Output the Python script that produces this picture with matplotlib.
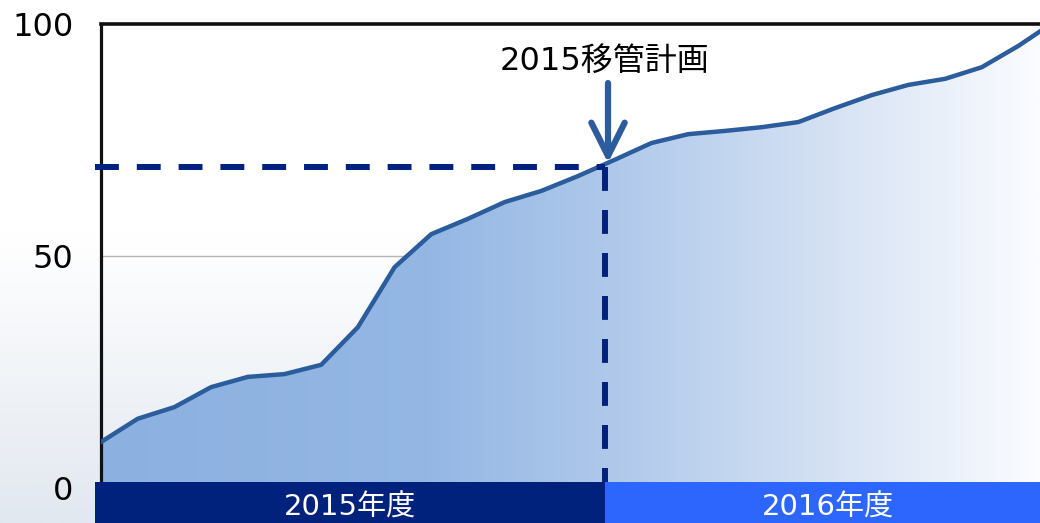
import numpy as np
import matplotlib
matplotlib.use('Agg')
import matplotlib.pyplot as plt
from matplotlib.colors import LinearSegmentedColormap
from matplotlib.patches import Rectangle, Polygon

plt.rcParams['font.family'] = ['DejaVu Sans', 'Noto Sans CJK JP']

# ---- data ----
values = [10.0, 15.0, 17.5, 21.8, 24.0, 24.6, 26.6, 34.7, 47.6, 54.7, 58.0,
          61.6, 64.0, 67.2, 70.7, 74.3, 76.2, 76.9, 77.7, 78.8, 81.8, 84.6,
          86.8, 88.1, 90.6, 95.2, 100.5]
y_ticks = [0, 50, 100]
y_ticklabels = ['0', '50', '100']
plan_value = 69.1
plan_x = 13.73
fy_labels = ['2015年度', '2016年度']
annotation = '2015移管計画'

x = np.arange(len(values))
XMAX = 939 / 36.7
YMIN = -7.42
BAND_TOP = 1.4
BAND_LEFT = -0.163

fig = plt.figure(figsize=(10.4, 5.23), dpi=100)
fig.patch.set_facecolor('white')

# background gradient
bg = fig.add_axes([0, 0, 1, 1], zorder=-10)
bg.axis('off')
t = np.linspace(0, 1, 256)[:, None]
bg_cmap = LinearSegmentedColormap.from_list(
    'bg', [(0, '#ffffff'), (0.45, '#ffffff'), (1.0, '#e2e8f0')])
bg.imshow(t, aspect='auto', cmap=bg_cmap, extent=[0, 1, 0, 1], origin='upper')
bg.set_xlim(0, 1)
bg.set_ylim(0, 1)

ax = fig.add_axes([101 / 1040, 0, 939 / 1040, (523 - 23.5) / 523])
ax.set_facecolor('none')
ax.set_xlim(0, XMAX)
ax.set_ylim(YMIN, 100)

# gridline
ax.axhline(50, color='#b4b4b4', lw=1, zorder=1)

# gradient area fill
poly_xy = np.vstack([np.column_stack([x, values]),
                     [[x[-1], YMIN], [x[0], YMIN]]])
poly = Polygon(poly_xy, closed=True, facecolor='none', edgecolor='none')
ax.add_patch(poly)
fill_cmap = LinearSegmentedColormap.from_list(
    'fill', [(0, '#8cb0e0'), (0.35, '#94b7e4'), (0.55, '#b0c9eb'),
             (0.78, '#d6e2f3'), (1.0, '#fbfcff')])
gx = np.linspace(0, 1, 512)[None, :]
im = ax.imshow(gx, aspect='auto', cmap=fill_cmap, extent=[0, XMAX, YMIN, 100],
               origin='lower', zorder=2, interpolation='bilinear')
im.set_clip_path(poly)

# line
ax.plot(x, values, color='#2b5c9c', lw=3.2, zorder=3, solid_joinstyle='round')

# dashed plan lines
navy = '#00217f'
ax.plot([BAND_LEFT, plan_x], [plan_value, plan_value], color=navy, lw=4.3,
        linestyle=(0, (4, 3)), zorder=4, clip_on=False, dash_capstyle='butt')
ax.plot([plan_x, plan_x], [plan_value, BAND_TOP], color=navy, lw=4.3,
        linestyle=(0, (4, 3.2)), zorder=4, clip_on=False, dash_capstyle='butt')

# fiscal year bands
ax.add_patch(Rectangle((BAND_LEFT, YMIN), plan_x - BAND_LEFT, BAND_TOP - YMIN,
                       facecolor='#00217c', edgecolor='none', zorder=5, clip_on=False))
ax.add_patch(Rectangle((plan_x, YMIN), XMAX - plan_x + 1, BAND_TOP - YMIN,
                       facecolor='#2d66fc', edgecolor='none', zorder=5, clip_on=False))
ax.text((BAND_LEFT + plan_x) / 2, -4.0, fy_labels[0], color='white',
        fontsize=21, ha='center', va='center', zorder=6)
ax.text((plan_x + XMAX) / 2 + 0.15, -4.0, fy_labels[1], color='white',
        fontsize=21, ha='center', va='center', zorder=6)

# arrow + annotation
ax.annotate('', xy=(13.815, 70.0), xytext=(13.815, 87.2),
            arrowprops=dict(arrowstyle='->,head_length=1.2,head_width=0.6',
                            lw=4.5, color='#2c5c9c', shrinkA=0, shrinkB=0,
                            mutation_scale=20, capstyle='round', joinstyle='round'),
            zorder=7)
ax.text(13.73, 91.9, annotation, fontsize=23, ha='center', va='center',
        color='black', zorder=7)

# spines / ticks
for s in ['right', 'bottom']:
    ax.spines[s].set_visible(False)
ax.spines['left'].set_linewidth(2.3)
ax.spines['top'].set_linewidth(2.6)
ax.spines['left'].set_color('#111111')
ax.spines['top'].set_color('#111111')
ax.set_xticks([])
ax.set_yticks(y_ticks)
ax.set_yticklabels(y_ticklabels)
ax.tick_params(axis='y', length=0, pad=20, labelsize=23, labelcolor='black')

fig.savefig('out.png', dpi=100)
